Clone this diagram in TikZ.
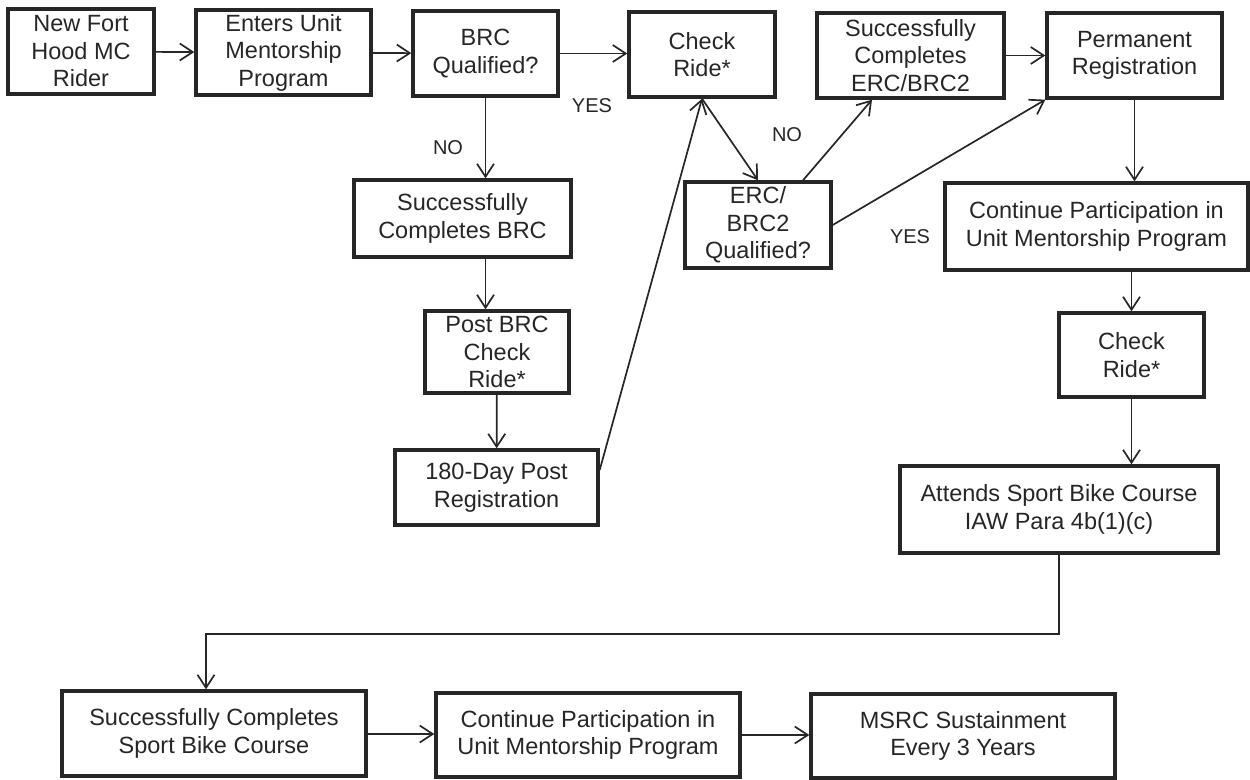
\documentclass[tikz,border=0pt]{standalone}
\usepackage{fontspec}
\setmainfont{Liberation Sans}
\usepackage{tikz}
\usetikzlibrary{arrows.meta, positioning, calc}
\definecolor{Ink}{HTML}{262626}
\tikzset{
    stepbox/.style={rectangle, draw=Ink, line width=3.4pt, text=Ink,
                    align=center, inner sep=0pt,
                    font=\fontsize{23.5}{27.5}\selectfont},
    arr/.style={draw=Ink, line width=1.7pt,
                -{Straight Barb[length=13pt, width=17pt, line width=1.7pt]}},
    lbl/.style={text=Ink, font=\fontsize{20}{22}\selectfont}
}

\begin{document}
\begin{tikzpicture}[x=1pt, y=-1pt]
    \useasboundingbox (0,0) rectangle (1250,779);

    % Top row
    \node[stepbox, minimum width=146pt, minimum height=85pt] (rider) at (81,51.5)
        {New Fort\\Hood MC\\Rider};
    \node[stepbox, minimum width=175pt, minimum height=85pt] (enters) at (283.5,52.5)
        {Enters Unit\\Mentorship\\Program};
    \node[stepbox, minimum width=145pt, minimum height=85pt] (brcq) at (485.5,53.5)
        {BRC\\Qualified?};
    \node[stepbox, minimum width=146pt, minimum height=85pt] (check) at (702,54.5)
        {Check\\Ride*};
    \node[stepbox, minimum width=187pt, minimum height=85pt] (ercdone) at (910.5,55.5)
        {Successfully\\Completes\\ERC/BRC2};
    \node[stepbox, minimum width=175pt, minimum height=85pt] (perm) at (1134.5,55.5)
        {Permanent\\Registration};

    % BRC branch
    \node[stepbox, minimum width=217pt, minimum height=77pt] (brcdone) at (462.5,218.5)
        {Successfully\\Completes BRC};
    \node[stepbox, minimum width=144pt, minimum height=82pt] (postbrc) at (497,352)
        {Post BRC\\Check\\Ride*};
    \node[stepbox, minimum width=203pt, minimum height=75pt] (post180) at (496.5,487.5)
        {180-Day Post\\Registration};

    % ERC question
    \node[stepbox, minimum width=146pt, minimum height=86pt] (ercq) at (758,225)
        {ERC/\\BRC2\\Qualified?};

    % Right column
    \node[stepbox, minimum width=303pt, minimum height=87pt] (mentor) at (1096.5,226.5)
        {Continue Participation in\\Unit Mentorship Program};
    \node[stepbox, minimum width=145pt, minimum height=84pt] (check2) at (1131.5,355)
        {Check\\Ride*};
    \node[stepbox, minimum width=318pt, minimum height=87pt] (sport) at (1059,509.5)
        {Attends Sport Bike Course\\IAW Para 4b(1)(c)};

    % Bottom row
    \node[stepbox, minimum width=304pt, minimum height=85pt] (sportdone) at (214,733.5)
        {Successfully Completes\\Sport Bike Course};
    \node[stepbox, minimum width=304pt, minimum height=84pt] (mentor2) at (588,735)
        {Continue Participation in\\Unit Mentorship Program};
    \node[stepbox, minimum width=304pt, minimum height=84pt] (msrc) at (963,736)
        {MSRC Sustainment\\Every 3 Years};

    % Labels
    \node[lbl] (no1) at (448,148) {NO};
    \node[lbl] (yes1) at (592,106) {YES};
    \node[lbl] (no2) at (787,135) {NO};
    \node[lbl] (yes2) at (910,237) {YES};

    % Connectors
    \draw[arr] (rider) -- (enters);
    \draw[arr] (enters) -- (brcq);
    \draw[arr] (brcq.east) -- (check.west |- brcq.east);
    \draw[arr] (brcq.south) -- (brcq.south |- brcdone.north);
    \draw[arr] (brcq.south |- brcdone.south) -- (brcq.south |- postbrc.north);
    \draw[arr] (postbrc) -- (post180);
    \draw[arr] ($(post180.east)+(0,-17.5)$) -- (check.south);
    \draw[arr] (check.south) -- (ercq.north);
    \draw[arr] ($(ercq.north)+(45,0)$) -- ($(ercdone.south)+(-38.5,0)$);
    \draw[arr] (ercq.east) -- (perm.south west);
    \draw[arr] (ercdone.east) -- (perm.west |- ercdone.east);
    \draw[arr] (perm.south) -- (perm.south |- mentor.north);
    \draw[arr] (check2.north |- mentor.south) -- (check2.north);
    \draw[arr] (check2.south) -- (check2.south |- sport.north);
    \draw[arr] (sport.south) |- ($(sportdone.north)+(-8,-55)$) -- ($(sportdone.north)+(-8,0)$);
    \draw[arr] (sportdone.east |- 0,734) -- (mentor2.west |- 0,734);
    \draw[arr] (mentor2.east |- 0,735) -- (msrc.west |- 0,735);
\end{tikzpicture}
\end{document}
